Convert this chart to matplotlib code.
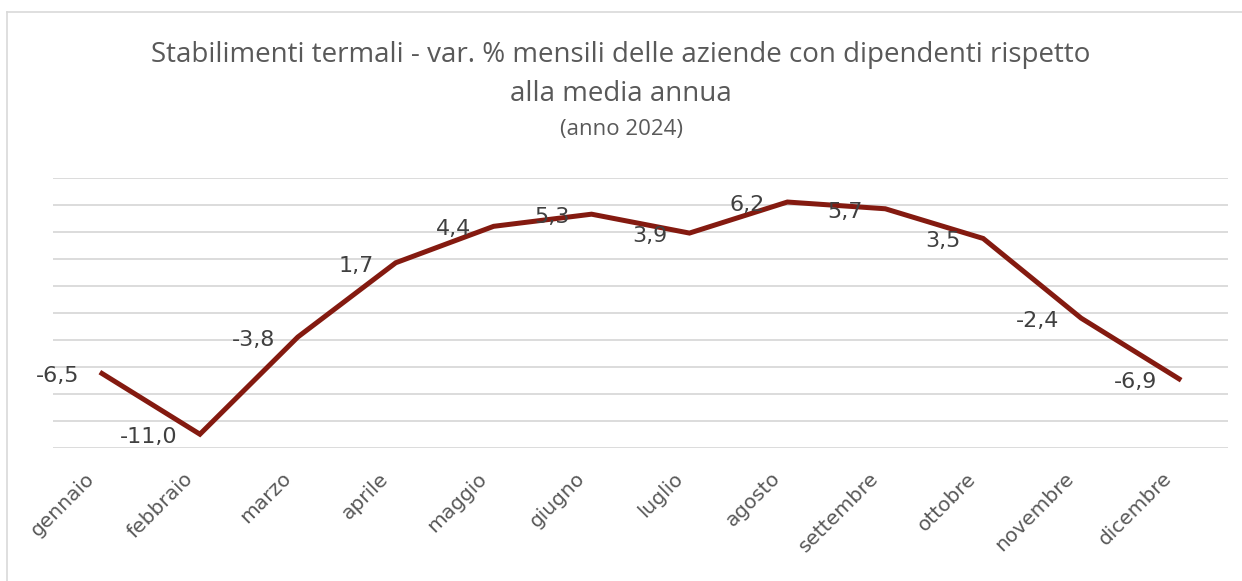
import matplotlib.pyplot as plt
from matplotlib.lines import Line2D
from matplotlib.transforms import ScaledTranslation

months = ["gennaio", "febbraio", "marzo", "aprile", "maggio", "giugno",
          "luglio", "agosto", "settembre", "ottobre", "novembre", "dicembre"]
values = [-6.5, -11.0, -3.8, 1.7, 4.4, 5.3, 3.9, 6.2, 5.7, 3.5, -2.4, -6.9]

text_grey = "#595959"
line_red = "#841A10"

fig = plt.figure(figsize=(12.42, 5.81), dpi=100)
ax = fig.add_axes([0.0427, 0.2294, 0.9460, 0.4647])

x = range(len(months))
ax.plot(x, values, color=line_red, linewidth=3.6, solid_joinstyle="miter", zorder=3)

# data labels, Excel style "left" position, comma as decimal separator
for i, v in enumerate(values):
    ax.annotate(f"{v:.1f}".replace(".", ","), (i, v), xytext=(-16, -2),
                textcoords="offset points", ha="right", va="center",
                fontsize=16, color="#404040", zorder=4)

ax.set_xlim(-0.5, len(months) - 0.5)
ax.set_ylim(-12, 8)
ax.set_yticks(range(-12, 9, 2))
ax.yaxis.grid(True, color="#D9D9D9", linewidth=1.3)
ax.set_axisbelow(True)
ax.tick_params(axis="y", left=False, labelleft=False)
ax.tick_params(axis="x", length=0, pad=20)
ax.set_xticks(list(x))
ax.set_xticklabels(months, rotation=45, ha="right", va="center",
                   rotation_mode="anchor", fontsize=14.5, color=text_grey)
shift = ScaledTranslation(-10 / 100, 0, fig.dpi_scale_trans)
for lab in ax.get_xticklabels():
    lab.set_transform(lab.get_transform() + shift)
for s in ax.spines.values():
    s.set_visible(False)

title_font = ["Open Sans", "DejaVu Sans"]
fig.text(0.5, 1 - 55 / 581,
         "Stabilimenti termali - var. % mensili delle aziende con dipendenti rispetto",
         ha="center", va="center", fontsize=20, color=text_grey, family=title_font)
fig.text(0.5, 1 - 94 / 581, "alla media annua",
         ha="center", va="center", fontsize=20, color=text_grey, family=title_font)
fig.text(0.5, 1 - 130 / 581, "(anno 2024)",
         ha="center", va="center", fontsize=16, color=text_grey, family=title_font)

# chart frame: only the top and left edges are inside the picture
top = 1 - 12 / 581
left = 7 / 1242
fig.add_artist(Line2D([left, 1], [top, top], transform=fig.transFigure,
                      color="#D9D9D9", linewidth=1.2))
fig.add_artist(Line2D([left, left], [0, top], transform=fig.transFigure,
                      color="#D9D9D9", linewidth=1.2))

fig.savefig("out.png", dpi=100)
